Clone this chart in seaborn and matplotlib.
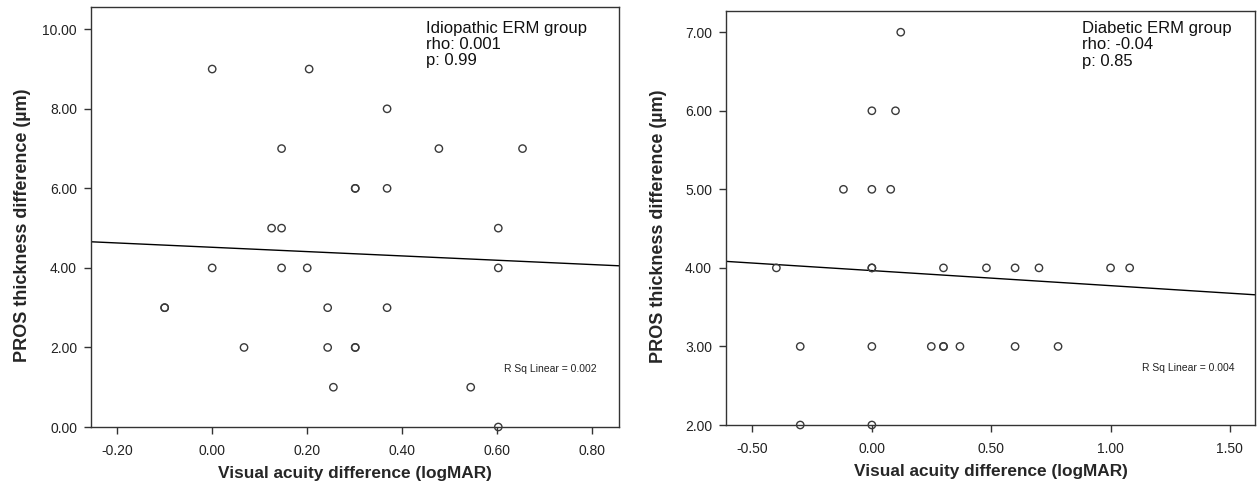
import matplotlib
matplotlib.use("Agg")
import matplotlib.pyplot as plt
import seaborn as sns
import pandas as pd
import numpy as np
from matplotlib.ticker import FormatStrFormatter

# ---- Data: Idiopathic ERM group ----
idio_va = [0.00, 0.204, 0.368, 0.146, 0.477, 0.653, 0.301, 0.301, 0.368,
           0.125, 0.146, 0.602, 0.00, 0.146, 0.20, 0.602, -0.10, -0.10,
           0.243, 0.368, 0.067, 0.243, 0.301, 0.301, 0.255, 0.544, 0.602]
idio_pros = [9, 9, 8, 7, 7, 7, 6, 6, 6,
             5, 5, 5, 4, 4, 4, 4, 3, 3,
             3, 3, 2, 2, 2, 2, 1, 1, 0]

# ---- Data: Diabetic ERM group ----
diab_va = [0.121, 0.00, 0.099, -0.119, 0.00, 0.079,
           -0.40, 0.00, 0.00, 0.30, 0.48, 0.60, 0.70, 1.00, 1.08,
           -0.30, 0.00, 0.249, 0.30, 0.30, 0.369, 0.60, 0.78,
           -0.30, 0.00]
diab_pros = [7, 6, 6, 5, 5, 5,
             4, 4, 4, 4, 4, 4, 4, 4, 4,
             3, 3, 3, 3, 3, 3, 3, 3,
             2, 2]

idio_text = ["Idiopathic ERM group", "rho: 0.001", "p: 0.99"]
diab_text = ["Diabetic ERM group", "rho: -0.04", "p: 0.85"]
idio_r2 = "R Sq Linear = 0.002"
diab_r2 = "R Sq Linear = 0.004"

x_label = "Visual acuity difference (logMAR)"
y_label = "PROS thickness difference (µm)"

sns.set_style("ticks")
plt.rcParams['font.family'] = ['Liberation Sans', 'DejaVu Sans']

fig = plt.figure(figsize=(12.58, 4.90), dpi=100)
ax1 = fig.add_axes([91/1258, (490-427)/490, 528/1258, 420/490])
ax2 = fig.add_axes([726/1258, (490-425)/490, 529/1258, 414/490])

df1 = pd.DataFrame({"va": idio_va, "pros": idio_pros})
df2 = pd.DataFrame({"va": diab_va, "pros": diab_pros})

edge = "#3a3a3a"

def draw(ax, df, xlim, ylim, xticks, yticks, lines, txy, r2, r2xy, ylab_x):
    ax.set_xlim(*xlim)
    ax.set_ylim(*ylim)
    sns.regplot(data=df, x="va", y="pros", ax=ax, scatter=False, ci=None,
                truncate=False, line_kws=dict(color="black", lw=1.0))
    sns.scatterplot(data=df, x="va", y="pros", ax=ax, marker="o", s=28,
                    facecolor="none", edgecolor=edge, linewidth=1.0,
                    clip_on=False, zorder=3)
    ax.set_xlim(*xlim)
    ax.set_ylim(*ylim)
    ax.set_xticks(xticks)
    ax.set_yticks(yticks)
    ax.xaxis.set_major_formatter(FormatStrFormatter("%.2f"))
    ax.yaxis.set_major_formatter(FormatStrFormatter("%.2f"))
    ax.tick_params(axis="both", labelsize=10, length=5, width=1,
                   color="#333333", labelcolor="#222222", direction="out")
    ax.tick_params(axis="x", pad=7)
    ax.tick_params(axis="y", pad=5)
    for sp in ax.spines.values():
        sp.set_visible(True)
        sp.set_color("#333333")
        sp.set_linewidth(1.0)
    ax.set_xlabel(x_label, fontsize=12.4, fontweight="bold", labelpad=6)
    ax.set_ylabel(y_label, fontsize=13, fontweight="bold")
    ax.yaxis.set_label_coords(ylab_x, 0.48)
    ax.text(txy[0], txy[1], "\n".join(lines), fontsize=12, va="top",
            ha="left", linespacing=1.1, color="#111111")
    ax.text(r2xy[0], r2xy[1], r2, fontsize=7.5, va="center", ha="left",
            color="#222222")

draw(ax1, df1, (-0.255, 0.856), (0.0, 10.56),
     [-0.2, 0.0, 0.2, 0.4, 0.6, 0.8], [0, 2, 4, 6, 8, 10],
     idio_text, (0.45, 10.22), idio_r2, (0.615, 1.47), -0.114)
draw(ax2, df2, (-0.611, 1.605), (2.0, 7.27),
     [-0.5, 0.0, 0.5, 1.0, 1.5], [2, 3, 4, 5, 6, 7],
     diab_text, (0.881, 7.14), diab_r2, (1.133, 2.73), -0.112)

fig.savefig("out.png", dpi=100, facecolor="white")
